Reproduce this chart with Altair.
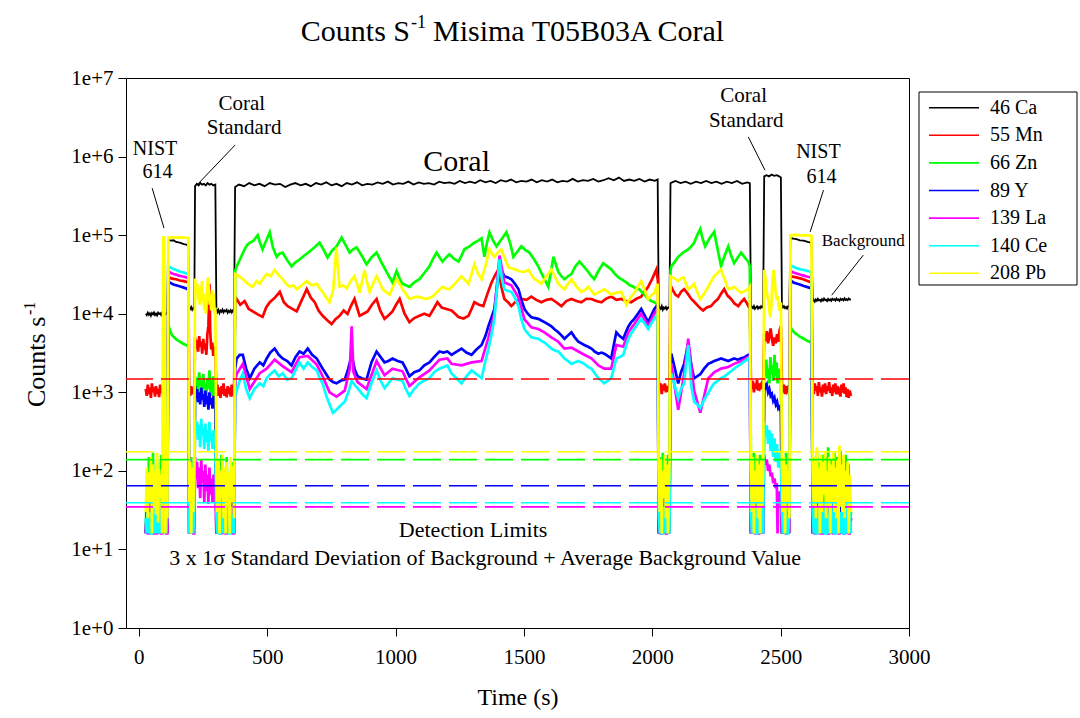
import altair as alt
import pandas as pd

FONT = "Liberation Serif"

SERIES = ["46 Ca", "55 Mn", "66 Zn", "89 Y", "139 La", "140 Ce", "208 Pb"]
COLORS = ["#000000", "#ff0000", "#00ff00", "#0000ff", "#ff00ff", "#00ffff", "#ffff00"]

X_TICKS = [0, 500, 1000, 1500, 2000, 2500, 3000]
Y_TICKS = [1, 10, 100, 1000, 10000, 100000, 1000000, 10000000]

# detection limits (dashed lines)
LIMIT_SERIES = ["55 Mn", "208 Pb", "66 Zn", "89 Y", "140 Ce", "139 La"]
LIMIT_VALUES = [1475, 175, 139, 64.5, 39.2, 34.8]

# shared time grids (s) of the background stretches
T_BG1 = [27, 31, 35, 39, 43, 47, 51, 55, 59, 63, 67, 71, 75, 79, 83, 87, 91, 95, 99, 103, 107, 111]
T_BGC = [196, 200, 204, 208, 212, 216]
T_BG2 = [302, 306, 310, 314, 318, 322, 326, 330, 334, 338, 342, 346, 350, 354, 358, 362, 366, 371]
T_GAP = [2025, 2029, 2033, 2037, 2041, 2045, 2049, 2053, 2057, 2061, 2067]
T_BG3 = [2384, 2388, 2392, 2396, 2400, 2404, 2408, 2412, 2416, 2420, 2424, 2428, 2432]
T_BG4 = [2505, 2509, 2513, 2517, 2521, 2525, 2529, 2534]
T_BG5 = [2625, 2629, 2633, 2637, 2641, 2645, 2649, 2653, 2657, 2661, 2665, 2669, 2673, 2677,
         2681, 2685, 2689, 2693, 2697, 2701, 2705, 2709, 2713, 2717, 2721, 2725, 2729, 2733,
         2737, 2741, 2745, 2749, 2753, 2757, 2761, 2765, 2769, 2774]

# ---------------- 46 Ca ----------------
CA_BG1 = [1.0e4, 9.6e3, 1.03e4, 9.7e3, 1.01e4, 9.4e3, 1.02e4, 9.8e3, 1.04e4, 9.6e3, 1.0e4, 9.5e3,
          1.03e4, 9.9e3, 1.01e4, 9.6e3, 1.04e4, 9.7e3, 1.0e4, 9.8e3, 1.02e4, 9.9e3]
CA_NIST1 = [(114, 8.7e4), (125, 8.5e4), (135, 8.6e4), (145, 8.2e4), (155, 8.1e4), (165, 7.9e4),
            (175, 7.7e4), (185, 7.6e4), (193, 7.3e4)]
CA_BGC = [1.2e4, 1.15e4, 1.22e4, 1.12e4, 1.18e4, 1.14e4]
CA_CS1 = [(219, 4.2e5), (226, 4.5e5), (233, 4.3e5), (240, 4.6e5), (247, 4.4e5), (254, 4.5e5),
          (261, 4.3e5), (268, 4.6e5), (275, 4.4e5), (282, 4.5e5), (290, 4.3e5), (298, 4.4e5)]
CA_BG2 = [1.15e4, 1.05e4, 1.12e4, 1.02e4, 1.1e4, 1.06e4, 1.13e4, 1.04e4, 1.1e4, 1.07e4, 1.12e4,
          1.03e4, 1.09e4, 1.05e4, 1.11e4, 1.04e4, 1.1e4, 1.07e4]
CA_CORAL1 = [(375, 4.1e5), (390, 4.4e5), (410, 4.2e5), (430, 4.6e5), (450, 4.3e5), (470, 4.5e5),
             (490, 4.2e5), (510, 4.6e5), (530, 4.4e5), (550, 4.5e5), (570, 4.1e5), (590, 4.4e5),
             (610, 4.6e5), (630, 4.3e5), (650, 4.5e5), (670, 4.2e5), (690, 4.6e5), (710, 4.4e5),
             (730, 4.7e5), (750, 4.3e5), (770, 4.5e5), (790, 4.2e5), (810, 4.6e5), (830, 4.4e5),
             (850, 4.7e5), (870, 4.3e5), (890, 4.5e5), (910, 4.4e5), (930, 4.7e5), (950, 4.5e5),
             (970, 4.8e5), (990, 4.4e5), (1010, 4.6e5), (1030, 4.5e5), (1050, 4.8e5), (1070, 4.4e5),
             (1090, 4.7e5), (1110, 4.5e5), (1130, 4.6e5), (1150, 4.4e5), (1170, 4.8e5), (1190, 4.6e5),
             (1210, 4.7e5), (1230, 4.5e5), (1250, 4.9e5), (1270, 4.6e5), (1290, 4.8e5), (1310, 4.6e5),
             (1330, 5.0e5), (1350, 4.7e5), (1370, 4.9e5), (1390, 4.6e5), (1410, 5.0e5), (1430, 4.8e5),
             (1450, 5.1e5), (1470, 4.7e5), (1490, 4.9e5), (1510, 4.8e5), (1530, 5.1e5), (1550, 4.7e5),
             (1570, 5.0e5), (1590, 4.8e5), (1610, 5.1e5), (1630, 4.7e5), (1650, 4.9e5), (1670, 4.8e5),
             (1690, 5.2e5), (1710, 4.8e5), (1730, 5.0e5), (1750, 4.9e5), (1770, 5.2e5), (1790, 4.8e5),
             (1810, 5.0e5), (1830, 5.3e5), (1850, 5.0e5), (1870, 5.4e5), (1890, 4.9e5), (1910, 5.1e5),
             (1930, 4.9e5), (1950, 5.2e5), (1970, 4.8e5), (1990, 5.1e5), (2010, 4.9e5), (2021, 5.1e5)]
CA_GAP = [1.3e4, 1.2e4, 1.15e4, 1.25e4, 1.12e4, 1.2e4, 1.16e4, 1.22e4, 1.14e4, 1.2e4, 1.18e4]
CA_CORAL2 = [(2071, 4.6e5), (2090, 4.9e5), (2110, 4.6e5), (2130, 4.8e5), (2150, 4.5e5), (2170, 4.8e5),
             (2190, 4.6e5), (2210, 4.9e5), (2230, 4.6e5), (2250, 4.8e5), (2270, 4.5e5), (2290, 4.8e5),
             (2310, 4.6e5), (2330, 4.9e5), (2350, 4.5e5), (2370, 4.7e5), (2380, 4.6e5)]
CA_BG3 = [1.3e4, 1.22e4, 1.18e4, 1.25e4, 1.15e4, 1.2e4, 1.24e4, 1.16e4, 1.22e4, 1.18e4, 1.25e4, 1.2e4, 1.25e4]
CA_CS2 = [(2436, 5.6e5), (2445, 5.8e5), (2455, 5.6e5), (2465, 5.9e5), (2475, 5.7e5), (2485, 5.8e5),
          (2494, 5.6e5), (2501, 5.4e5)]
CA_BG4 = [1.3e4, 1.2e4, 1.25e4, 1.18e4, 1.22e4, 1.16e4, 1.24e4, 1.2e4]
CA_NIST2 = [(2538, 9.2e4), (2550, 9.0e4), (2562, 8.9e4), (2575, 8.6e4), (2590, 8.5e4), (2605, 8.2e4),
            (2620, 8.0e4)]
CA_BG5 = [1.45e4, 1.5e4, 1.42e4, 1.52e4, 1.46e4, 1.55e4, 1.48e4, 1.5e4, 1.44e4, 1.53e4,
          1.47e4, 1.56e4, 1.49e4, 1.51e4, 1.45e4, 1.54e4, 1.48e4, 1.52e4, 1.46e4, 1.55e4,
          1.5e4, 1.53e4, 1.47e4, 1.56e4, 1.49e4, 1.52e4, 1.46e4, 1.55e4, 1.5e4, 1.54e4,
          1.48e4, 1.57e4, 1.5e4, 1.53e4, 1.49e4, 1.56e4, 1.51e4, 1.52e4]

# ---------------- 55 Mn ----------------
MN_BG1 = [1100, 900, 1250, 950, 1150, 850, 1300, 1000, 1150, 880, 1200, 950, 1100, 870, 1250, 980,
          1100, 900, 1200, 950, 1050, 1000]
MN_NIST1 = [(116, 2.9e4), (130, 2.8e4), (145, 2.75e4), (160, 2.65e4), (175, 2.6e4), (193, 2.5e4)]
MN_BGC = [1100, 900, 1200, 950, 1050, 1000]
MN_CS1 = [(219, 5000), (223, 3600), (227, 4600), (231, 3300), (235, 5200), (239, 3800), (243, 4400),
          (247, 3100), (251, 4800), (255, 3500), (259, 4200), (263, 3000), (267, 5500), (271, 7000),
          (275, 2.4e4), (278, 6000), (282, 3500), (286, 4300), (290, 2900), (294, 3800), (298, 3200)]
MN_BG2 = [1000, 1250, 900, 1150, 850, 1200, 950, 1300, 900, 1100, 860, 1200, 950, 1150, 880, 1250, 1000, 1100]
MN_CORAL1 = [(375, 1.4e4), (381, 1.54e4), (395, 1.3e4), (412, 1.45e4), (428, 1.15e4), (444, 1.07e4),
             (463, 9.8e3), (482, 9.1e3), (496, 1.2e4), (510, 1.4e4), (530, 1.6e4), (549, 1.9e4),
             (565, 1.4e4), (580, 1.25e4), (598, 1.15e4), (615, 1.07e4), (635, 1.5e4), (654, 2.05e4),
             (670, 1.6e4), (685, 1.4e4), (700, 1.1e4), (716, 9.4e3), (735, 8.2e3), (751, 7.4e3),
             (766, 8.5e3), (782, 9.4e3), (798, 1.1e4), (813, 9.9e3), (826, 1.25e4), (840, 1.54e4),
             (850, 1.2e4), (860, 9.4e3), (875, 1.0e4), (891, 1.07e4), (908, 1.3e4), (926, 1.54e4),
             (940, 1.1e4), (957, 8.6e3), (972, 9.5e3), (988, 1.07e4), (1002, 1.3e4), (1016, 1.54e4),
             (1035, 1.0e4), (1054, 7.8e3), (1073, 8.8e3), (1093, 9.4e3), (1112, 1.0e4), (1132, 9.4e3),
             (1148, 1.15e4), (1163, 1.4e4), (1180, 1.2e4), (1198, 1.15e4), (1218, 1.1e4), (1232, 1.0e4),
             (1245, 9.1e3), (1265, 8.7e3), (1284, 9.4e3), (1296, 1.15e4), (1307, 1.4e4), (1325, 1.3e4),
             (1342, 1.25e4), (1358, 1.8e4), (1374, 2.5e4), (1390, 3.2e4), (1401, 3.67e4), (1412, 2.2e4),
             (1424, 1.54e4), (1438, 1.4e4), (1451, 1.25e4), (1470, 1.45e4), (1490, 1.54e4), (1510, 1.5e4),
             (1529, 1.65e4), (1548, 1.5e4), (1568, 1.4e4), (1588, 1.5e4), (1607, 1.54e4), (1626, 1.4e4),
             (1646, 1.25e4), (1665, 1.45e4), (1685, 1.54e4), (1705, 1.45e4), (1724, 1.4e4), (1743, 1.55e4),
             (1763, 1.54e4), (1782, 1.45e4), (1802, 1.4e4), (1820, 1.55e4), (1840, 1.65e4), (1860, 1.5e4),
             (1879, 1.54e4), (1898, 1.45e4), (1918, 1.4e4), (1938, 1.55e4), (1957, 1.65e4), (1970, 1.9e4),
             (1984, 2.2e4), (2000, 2.8e4), (2016, 3.67e4), (2022, 2.6e4)]
MN_GAP = [1400, 1100, 1300, 950, 1250, 1050, 1300, 1000, 1200, 1100, 1200]
MN_CORAL2 = [(2071, 2.3e4), (2080, 2.0e4), (2090, 1.75e4), (2101, 1.65e4), (2112, 1.9e4), (2124, 2.05e4),
             (2138, 1.8e4), (2152, 1.54e4), (2165, 1.4e4), (2179, 1.25e4), (2190, 1.15e4), (2198, 1.1e4),
             (2212, 1.2e4), (2229, 1.25e4), (2242, 1.4e4), (2256, 1.54e4), (2268, 1.8e4), (2280, 2.05e4),
             (2293, 1.7e4), (2307, 1.54e4), (2320, 1.35e4), (2335, 1.25e4), (2346, 1.4e4), (2358, 1.54e4),
             (2366, 1.4e4), (2374, 1.25e4), (2380, 1.35e4)]
MN_BG3 = [1500, 1100, 1400, 1000, 1300, 1100, 1450, 1050, 1300, 1150, 1250, 1100, 1300]
MN_CS2 = [(2436, 5500), (2441, 4500), (2446, 6000), (2451, 4200), (2456, 5200), (2461, 6500), (2466, 4800),
          (2471, 3900), (2476, 5000), (2481, 4200), (2486, 5500), (2491, 4400), (2496, 6200), (2501, 7000)]
MN_BG4 = [1300, 1000, 1250, 950, 1200, 1050, 1150, 1100]
MN_NIST2 = [(2538, 3.0e4), (2560, 2.9e4), (2580, 2.8e4), (2600, 2.65e4), (2620, 2.5e4)]
MN_BG5 = [1250, 950, 1300, 1050, 1200, 900, 1350, 1000, 1150, 880, 1250, 1000, 1300, 950, 1200, 1050,
          1350, 980, 1150, 900, 1250, 1000, 1300, 940, 1200, 1050, 1150, 880, 1250, 990, 1300, 960,
          1150, 870, 1100, 850, 1050, 900]

# ---------------- 66 Zn ----------------
ZN_BG1 = [16, 60, 16, 150, 30, 45, 16, 170, 25, 80, 16, 140, 30, 50, 16, 160, 20, 16, 40, 16, 90, 25]
ZN_NIST1 = [(115, 7.2e3), (120, 6.3e3), (125, 5.7e3), (130, 5.3e3), (138, 5.0e3), (146, 4.7e3),
            (155, 4.5e3), (165, 4.3e3), (175, 4.1e3), (184, 4.0e3), (193, 3.8e3)]
ZN_BGC = [16, 60, 150, 16, 90, 30]
ZN_CS1 = [(219, 1600), (223, 1100), (227, 1500), (231, 1000), (235, 1800), (239, 1200), (243, 1400),
          (247, 950), (251, 1700), (255, 1100), (259, 1300), (263, 900), (267, 1500), (271, 1100),
          (275, 1900), (279, 1000), (283, 1400), (287, 900), (291, 1600), (295, 1000), (298, 1200)]
ZN_BG2 = [16, 140, 25, 60, 16, 160, 30, 16, 80, 16, 150, 40, 16, 70, 16, 130, 25, 16]
ZN_CORAL1 = [(375, 3.5e4), (381, 4.0e4), (395, 5.0e4), (412, 6.6e4), (422, 7.5e4), (432, 8.0e4),
             (447, 8.5e4), (463, 1.0e5), (472, 8.0e4), (482, 6.6e4), (496, 8.5e4), (510, 1.09e5),
             (522, 7.0e4), (537, 5.3e4), (548, 5.8e4), (560, 6.0e4), (578, 4.8e4), (595, 4.0e4),
             (610, 4.5e4), (626, 4.9e4), (645, 5.5e4), (665, 6.2e4), (685, 7.0e4), (704, 8.0e4),
             (720, 6.5e4), (735, 5.2e4), (752, 6.3e4), (770, 7.2e4), (790, 9.3e4), (805, 7.5e4),
             (821, 6.0e4), (835, 6.6e4), (848, 7.0e4), (868, 5.5e4), (887, 4.25e4), (906, 5.2e4),
             (926, 6.0e4), (945, 4.5e4), (965, 3.4e4), (977, 2.9e4), (988, 2.5e4), (1004, 3.5e4),
             (1016, 2.8e4), (1027, 2.4e4), (1040, 2.3e4), (1054, 2.2e4), (1073, 2.5e4), (1093, 2.75e4),
             (1112, 3.3e4), (1132, 4.0e4), (1146, 5.0e4), (1160, 6.0e4), (1172, 5.2e4), (1183, 4.6e4),
             (1197, 5.2e4), (1210, 5.7e4), (1228, 5.0e4), (1245, 4.6e4), (1257, 5.5e4), (1268, 6.6e4),
             (1288, 7.2e4), (1307, 8.0e4), (1322, 8.5e4), (1335, 9.1e4), (1346, 5.3e4), (1356, 8.0e4),
             (1366, 1.09e5), (1380, 8.5e4), (1393, 7.2e4), (1412, 8.8e4), (1432, 1.09e5), (1446, 8.0e4),
             (1459, 5.3e4), (1475, 6.2e4), (1490, 7.2e4), (1505, 6.5e4), (1521, 6.0e4), (1538, 5.0e4),
             (1556, 4.0e4), (1568, 3.3e4), (1580, 2.75e4), (1595, 2.2e4), (1615, 5.3e4), (1625, 4.2e4),
             (1634, 3.4e4), (1646, 3.0e4), (1658, 2.75e4), (1672, 3.0e4), (1685, 3.2e4), (1700, 4.0e4),
             (1716, 4.6e4), (1733, 4.0e4), (1751, 3.4e4), (1763, 3.0e4), (1774, 2.75e4), (1790, 3.5e4),
             (1809, 4.4e4), (1825, 4.0e4), (1840, 3.67e4), (1855, 3.2e4), (1868, 2.9e4), (1884, 2.7e4),
             (1899, 2.5e4), (1913, 2.3e4), (1926, 2.2e4), (1938, 2.1e4), (1949, 2.05e4), (1966, 1.8e4),
             (1984, 1.54e4), (1996, 1.45e4), (2008, 1.4e4), (2021, 1.3e4)]
ZN_GAP = [16, 150, 30, 16, 170, 40, 16, 120, 16, 160, 30]
ZN_CORAL2 = [(2071, 3.5e4), (2074, 4.0e4), (2088, 4.6e4), (2101, 5.3e4), (2120, 6.0e4), (2140, 6.6e4),
             (2152, 7.2e4), (2163, 8.0e4), (2175, 1.0e5), (2187, 1.2e5), (2196, 9.0e4), (2206, 7.2e4),
             (2222, 9.0e4), (2241, 1.1e5), (2255, 6.5e4), (2268, 4.0e4), (2282, 5.5e4), (2296, 7.2e4),
             (2307, 5.5e4), (2319, 4.4e4), (2333, 5.2e4), (2346, 6.0e4), (2360, 5.2e4), (2374, 4.6e4),
             (2380, 4.0e4)]
ZN_BG3 = [150, 30, 16, 170, 16, 60, 140, 16, 40, 160, 16, 90, 25]
ZN_CS2 = [(2436, 2200), (2440, 1600), (2444, 2600), (2448, 1500), (2452, 2000), (2456, 1300), (2460, 2800),
          (2464, 1700), (2468, 2200), (2472, 1400), (2476, 3000), (2480, 1600), (2484, 2400), (2488, 1300),
          (2492, 2000), (2496, 1500), (2501, 1800)]
ZN_BG4 = [16, 140, 30, 16, 170, 20, 60, 16]
ZN_NIST2 = [(2538, 6.8e3), (2545, 6.2e3), (2555, 5.7e3), (2565, 5.4e3), (2575, 5.1e3), (2585, 4.9e3),
            (2595, 4.7e3), (2605, 4.5e3), (2613, 4.4e3), (2620, 4.2e3)]
ZN_BG5 = [16, 150, 25, 16, 170, 40, 16, 130, 16, 60, 160, 16, 30, 150, 16, 200, 25, 16, 140, 40,
          16, 170, 16, 60, 150, 16, 30, 180, 16, 140, 25, 16, 160, 40, 16, 120, 16, 30]

# ---------------- 89 Y ----------------
Y_BG1 = [16, 35, 16, 25, 40, 16, 30, 16, 45, 16, 28, 16, 38, 16, 30, 16, 25, 16, 35, 16, 30, 16]
Y_NIST1 = [(115, 2.55e4), (125, 2.45e4), (135, 2.35e4), (145, 2.3e4), (155, 2.25e4), (165, 2.2e4),
           (175, 2.15e4), (185, 2.1e4), (193, 2.0e4)]
Y_BGC = [16, 40, 16, 30, 16, 35]
Y_CS1 = [(219, 1200), (223, 850), (227, 1100), (231, 750), (235, 1000), (239, 700), (243, 1150),
         (247, 800), (251, 950), (255, 650), (259, 1050), (263, 700), (267, 900), (271, 600),
         (275, 1000), (279, 700), (283, 850), (287, 620), (291, 900), (295, 650), (298, 800)]
Y_BG2 = [16, 35, 16, 40, 25, 16, 30, 16, 45, 16, 28, 16, 35, 16, 30, 16, 40, 16]
Y_CORAL1 = [(375, 2.0e3), (381, 2.69e3), (393, 3.0e3), (405, 3.0e3), (418, 2.0e3), (432, 1.51e3),
            (450, 2.0e3), (471, 2.4e3), (485, 2.2e3), (498, 2.69e3), (512, 3.2e3), (529, 3.6e3),
            (545, 3.0e3), (560, 2.69e3), (578, 2.5e3), (595, 2.2e3), (610, 2.8e3), (626, 3.3e3),
            (642, 3.1e3), (658, 3.6e3), (675, 3.0e3), (693, 2.69e3), (705, 2.3e3), (716, 2.0e3),
            (730, 1.7e3), (743, 1.45e3), (756, 1.35e3), (770, 1.3e3), (786, 1.4e3), (802, 1.45e3),
            (816, 2.0e3), (829, 3.0e3), (840, 2.0e3), (852, 1.6e3), (870, 1.5e3), (887, 1.45e3),
            (906, 2.4e3), (926, 3.3e3), (942, 2.8e3), (957, 2.4e3), (972, 2.5e3), (988, 2.69e3),
            (1008, 2.5e3), (1027, 2.4e3), (1040, 2.0e3), (1054, 1.6e3), (1073, 1.8e3), (1093, 1.9e3),
            (1112, 2.2e3), (1132, 2.4e3), (1150, 2.8e3), (1171, 3.3e3), (1187, 3.2e3), (1202, 3.3e3),
            (1218, 3.0e3), (1238, 3.3e3), (1257, 3.6e3), (1276, 3.2e3), (1296, 3.0e3), (1315, 3.5e3),
            (1335, 4.0e3), (1350, 5.2e3), (1362, 7.0e3), (1374, 9.0e3), (1385, 1.15e4), (1395, 2.2e4),
            (1405, 4.25e4), (1414, 3.5e4), (1424, 3.0e4), (1437, 2.9e4), (1451, 2.75e4), (1465, 2.4e4),
            (1479, 2.05e4), (1490, 1.5e4), (1502, 1.15e4), (1515, 1.0e4), (1529, 9.0e3), (1543, 8.8e3),
            (1556, 8.6e3), (1568, 8.2e3), (1580, 7.8e3), (1595, 7.3e3), (1607, 6.9e3), (1620, 6.3e3),
            (1634, 5.8e3), (1646, 5.3e3), (1658, 4.8e3), (1672, 5.3e3), (1685, 5.8e3), (1698, 5.0e3),
            (1712, 4.4e3), (1724, 4.2e3), (1735, 4.0e3), (1750, 3.8e3), (1763, 3.6e3), (1776, 3.3e3),
            (1790, 3.1e3), (1802, 3.2e3), (1813, 3.1e3), (1826, 2.9e3), (1840, 2.69e3), (1850, 4.0e3),
            (1860, 5.8e3), (1873, 5.2e3), (1887, 4.8e3), (1897, 5.8e3), (1907, 6.9e3), (1918, 7.8e3),
            (1930, 8.6e3), (1944, 1.0e4), (1957, 1.15e4), (1970, 9.5e3), (1984, 7.8e3), (1996, 9.5e3),
            (2008, 1.15e4), (2021, 1.3e4)]
Y_GAP = [16, 40, 16, 30, 16, 45, 16, 35, 16, 28, 16]
Y_CORAL2 = [(2071, 2.6e3), (2074, 3.1e3), (2088, 2.0e3), (2101, 1.3e3), (2112, 1.8e3), (2124, 2.3e3),
            (2140, 4.2e3), (2152, 2.2e3), (2163, 1.5e3), (2175, 1.6e3), (2187, 1.7e3), (2202, 2.0e3),
            (2218, 2.3e3), (2230, 2.4e3), (2241, 2.5e3), (2255, 2.6e3), (2268, 2.7e3), (2282, 2.6e3),
            (2296, 2.5e3), (2307, 2.6e3), (2319, 2.7e3), (2333, 2.6e3), (2346, 2.7e3), (2360, 2.8e3),
            (2374, 3.0e3), (2380, 2.9e3)]
Y_BG3 = [16, 40, 16, 30, 16, 45, 16, 28, 16, 38, 16, 30, 16]
Y_CS2 = [(2436, 1300), (2441, 1150), (2446, 1250), (2451, 1000), (2456, 1100), (2461, 900), (2466, 950),
         (2471, 780), (2476, 850), (2481, 700), (2486, 760), (2491, 620), (2496, 650), (2501, 560)]
Y_BG4 = [16, 35, 16, 40, 16, 30, 16, 25]
Y_NIST2 = [(2538, 2.65e4), (2550, 2.5e4), (2562, 2.42e4), (2575, 2.35e4), (2590, 2.25e4), (2605, 2.18e4),
           (2620, 2.1e4)]
Y_BG5 = [16, 40, 16, 30, 16, 45, 16, 28, 16, 50, 16, 35, 16, 30, 16, 45, 16, 25, 16, 40,
         16, 32, 16, 48, 16, 30, 16, 38, 16, 28, 16, 42, 16, 30, 16, 35, 16, 25]

# ---------------- 139 La ----------------
LA_BG1 = [16, 30, 16, 16, 25, 16, 35, 16, 16, 30, 16, 16, 28, 16, 35, 16, 16, 25, 16, 30, 16, 16]
LA_NIST1 = [(115, 3.45e4), (125, 3.3e4), (135, 3.2e4), (145, 3.15e4), (155, 3.05e4), (165, 3.0e4),
            (175, 2.95e4), (185, 2.9e4), (193, 2.8e4)]
LA_BGC = [16, 30, 16, 25, 16, 16]
LA_CS1 = [(219, 150), (223, 80), (227, 130), (231, 60), (235, 110), (239, 45), (243, 140), (247, 70),
          (251, 100), (255, 40), (259, 120), (263, 55), (267, 90), (271, 38), (275, 110), (279, 50),
          (283, 80), (287, 40), (291, 90), (295, 45), (298, 60)]
LA_BG2 = [16, 25, 16, 30, 16, 16, 35, 16, 25, 16, 16, 30, 16, 22, 16, 35, 16, 16]
LA_CORAL1 = [(375, 1.4e3), (381, 1.7e3), (405, 2.3e3), (432, 1.1e3), (471, 1.75e3), (498, 2.0e3),
             (529, 2.6e3), (560, 2.15e3), (595, 1.8e3), (626, 2.8e3), (658, 2.9e3), (693, 2.25e3),
             (716, 1.6e3), (743, 1.0e3), (770, 880), (802, 1.05e3), (822, 2.0e3), (829, 6.9e3),
             (836, 1.8e3), (852, 1.35e3), (887, 1.1e3), (926, 2.5e3), (957, 1.65e3), (988, 2.0e3),
             (1027, 1.85e3), (1054, 1.2e3), (1093, 1.55e3), (1132, 1.9e3), (1171, 2.6e3), (1202, 2.7e3),
             (1218, 2.3e3), (1257, 2.2e3), (1296, 2.4e3), (1335, 2.5e3), (1362, 5.0e3), (1385, 1.0e4),
             (1405, 5.5e4), (1424, 2.5e4), (1451, 2.3e4), (1479, 1.6e4), (1502, 8.5e3), (1529, 6.7e3),
             (1556, 6.4e3), (1580, 5.8e3), (1607, 5.0e3), (1634, 4.4e3), (1658, 3.6e3), (1685, 3.7e3),
             (1712, 3.3e3), (1735, 3.0e3), (1763, 2.7e3), (1790, 2.2e3), (1813, 2.0e3), (1840, 2.0e3),
             (1860, 4.0e3), (1887, 3.8e3), (1907, 5.8e3), (1930, 7.4e3), (1957, 1.0e4), (1984, 7.0e3),
             (2008, 1.0e4), (2021, 1.15e4)]
LA_GAP = [16, 30, 16, 16, 25, 16, 30, 16, 16, 25, 16]
LA_CORAL2 = [(2071, 1.9e3), (2074, 2.3e3), (2101, 600), (2124, 1.7e3), (2140, 4.8e3), (2163, 1.05e3),
             (2187, 550), (2218, 1.5e3), (2241, 1.8e3), (2268, 2.0e3), (2296, 2.1e3), (2319, 2.3e3),
             (2346, 2.5e3), (2374, 2.8e3), (2380, 2.6e3)]
LA_BG3 = [16, 30, 16, 25, 16, 16, 30, 16, 16, 25, 16, 30, 16]
LA_CS2 = [(2436, 160), (2441, 120), (2446, 140), (2451, 100), (2456, 120), (2461, 85), (2466, 95),
          (2471, 70), (2476, 80), (2481, 60), (2485, 70), (2488, 16), (2492, 55), (2496, 40), (2501, 50)]
LA_BG4 = [16, 30, 16, 25, 16, 16, 30, 16]
LA_NIST2 = [(2538, 3.5e4), (2550, 3.35e4), (2562, 3.25e4), (2575, 3.15e4), (2590, 3.05e4), (2605, 2.95e4),
            (2620, 2.9e4)]
LA_BG5 = [16, 30, 16, 16, 25, 16, 35, 16, 16, 30, 16, 16, 28, 16, 30, 16, 16, 25, 16, 30,
          16, 16, 28, 16, 33, 16, 16, 25, 16, 30, 16, 16, 27, 16, 30, 16, 16, 25]

# ---------------- 140 Ce ----------------
CE_BG1 = [25, 16, 40, 16, 30, 16, 16, 35, 16, 45, 16, 30, 16, 40, 16, 28, 16, 35, 16, 40, 16, 30]
CE_NIST1 = [(115, 4.0e4), (125, 3.85e4), (135, 3.7e4), (145, 3.6e4), (155, 3.5e4), (165, 3.4e4),
            (175, 3.35e4), (185, 3.25e4), (193, 3.2e4)]
CE_BGC = [16, 35, 16, 45, 16, 30]
CE_CS1 = [(219, 450), (223, 300), (227, 420), (231, 250), (235, 380), (239, 200), (243, 460), (247, 280),
          (251, 350), (255, 190), (259, 400), (263, 230), (267, 330), (271, 180), (275, 420), (279, 240),
          (283, 300), (287, 190), (291, 330), (295, 210), (298, 260)]
CE_BG2 = [30, 16, 40, 16, 16, 35, 16, 45, 16, 30, 16, 40, 16, 16, 35, 16, 28, 16]
CE_CORAL1 = [(375, 900), (381, 1.05e3), (393, 1.4e3), (405, 1.74e3), (418, 1.1e3), (432, 843),
             (450, 1.1e3), (471, 1.3e3), (485, 1.2e3), (498, 1.51e3), (512, 1.7e3), (529, 1.9e3),
             (545, 1.6e3), (560, 1.74e3), (578, 1.45e3), (595, 1.51e3), (610, 1.9e3), (626, 2.4e3),
             (642, 2.0e3), (658, 2.4e3), (675, 2.1e3), (693, 1.9e3), (705, 1.5e3), (716, 1.3e3),
             (730, 900), (743, 700), (756, 550), (770, 600), (786, 680), (802, 760),
             (816, 1.0e3), (829, 1.4e3), (840, 1.25e3), (852, 1.13e3), (870, 950), (887, 843),
             (906, 1.3e3), (926, 1.9e3), (942, 1.4e3), (957, 1.13e3), (972, 1.3e3), (988, 1.51e3),
             (1008, 1.45e3), (1027, 1.4e3), (1040, 1.1e3), (1054, 900), (1073, 1.1e3), (1093, 1.3e3),
             (1112, 1.4e3), (1132, 1.51e3), (1150, 1.8e3), (1171, 2.0e3), (1187, 2.1e3), (1202, 2.2e3),
             (1218, 1.74e3), (1238, 1.5e3), (1257, 1.3e3), (1276, 1.6e3), (1296, 1.9e3), (1315, 1.7e3),
             (1335, 1.51e3), (1350, 2.5e3), (1362, 3.6e3), (1374, 5.5e3), (1385, 8.6e3), (1395, 2.0e4),
             (1405, 4.9e4), (1414, 2.8e4), (1424, 2.05e4), (1437, 1.95e4), (1451, 1.9e4), (1465, 1.6e4),
             (1479, 1.25e4), (1490, 8.5e3), (1502, 6.4e3), (1515, 5.6e3), (1529, 5.0e3), (1543, 4.9e3),
             (1556, 4.8e3), (1568, 4.5e3), (1580, 4.3e3), (1595, 3.9e3), (1607, 3.6e3), (1620, 3.4e3),
             (1634, 3.3e3), (1646, 3.0e3), (1658, 2.69e3), (1672, 2.5e3), (1685, 2.3e3), (1698, 2.4e3),
             (1712, 2.5e3), (1724, 2.4e3), (1735, 2.3e3), (1750, 2.1e3), (1763, 2.0e3), (1776, 1.75e3),
             (1790, 1.51e3), (1802, 1.4e3), (1813, 1.3e3), (1826, 1.4e3), (1840, 1.51e3), (1850, 2.0e3),
             (1860, 2.69e3), (1873, 2.8e3), (1887, 3.0e3), (1897, 3.8e3), (1907, 4.8e3), (1918, 5.6e3),
             (1930, 6.4e3), (1944, 7.5e3), (1957, 8.6e3), (1970, 7.5e3), (1984, 6.4e3), (1996, 7.5e3),
             (2008, 8.6e3), (2021, 1.0e4)]
CE_GAP = [30, 16, 40, 16, 16, 35, 16, 45, 16, 30, 16]
CE_CORAL2 = [(2071, 1.5e3), (2074, 1.74e3), (2088, 1.2e3), (2101, 843), (2112, 1.1e3), (2124, 1.3e3),
             (2140, 4.0e3), (2152, 1.2e3), (2163, 760), (2175, 700), (2187, 630), (2202, 800),
             (2218, 980), (2230, 1.15e3), (2241, 1.3e3), (2255, 1.4e3), (2268, 1.51e3), (2282, 1.6e3),
             (2296, 1.74e3), (2307, 1.85e3), (2319, 2.0e3), (2333, 2.15e3), (2346, 2.3e3), (2360, 2.5e3),
             (2374, 2.69e3), (2380, 2.5e3)]
CE_BG3 = [30, 16, 40, 16, 35, 16, 16, 45, 16, 30, 16, 38, 16]
CE_CS2 = [(2436, 420), (2441, 280), (2446, 380), (2451, 220), (2456, 330), (2461, 180), (2466, 300),
          (2471, 150), (2476, 260), (2481, 130), (2486, 220), (2491, 110), (2496, 180), (2501, 120)]
CE_BG4 = [30, 16, 40, 16, 35, 16, 16, 30]
CE_NIST2 = [(2538, 4.15e4), (2550, 3.95e4), (2562, 3.8e4), (2575, 3.7e4), (2590, 3.6e4), (2605, 3.5e4),
            (2620, 3.4e4)]
CE_BG5 = [30, 16, 40, 16, 16, 35, 16, 45, 16, 30, 16, 40, 16, 16, 35, 16, 28, 16, 42, 16,
          30, 16, 16, 38, 16, 45, 16, 30, 16, 35, 16, 16, 40, 16, 28, 16, 35, 16]

# ---------------- 208 Pb ----------------
PB_BG1 = [30, 110, 25, 95, 40, 150, 16, 120, 35, 100, 28, 170, 22, 105, 45, 90, 16, 9.3e4, 9.3e4, 16, 60, 25]
PB_NIST1 = [(115, 9.3e4), (130, 9.4e4), (145, 9.3e4), (160, 9.35e4), (175, 9.3e4), (193, 9.2e4)]
PB_BGC = [40, 130, 16, 110, 30, 150]
PB_CS1 = [(219, 2.8e4), (222, 2.2e4), (225, 1.8e4), (228, 2.4e4), (231, 1.5e4), (234, 1.9e4), (237, 1.3e4),
          (240, 2.2e4), (243, 1.6e4), (246, 2.6e4), (249, 1.4e4), (252, 1.8e4), (255, 1.1e4), (258, 1.5e4),
          (261, 1.0e4), (264, 1.6e4), (267, 2.4e4), (270, 2.9e4), (273, 1.8e4), (276, 1.3e4), (279, 1.6e4),
          (282, 1.1e4), (285, 2.0e4), (288, 1.4e4), (291, 1.8e4), (294, 1.0e4), (298, 1.2e4)]
PB_BG2 = [120, 30, 140, 16, 100, 45, 160, 25, 110, 16, 130, 35, 95, 16, 150, 40, 115, 25]
PB_CORAL1 = [(375, 3.2e4), (390, 3.0e4), (405, 2.75e4), (425, 2.4e4), (444, 2.2e4), (458, 2.6e4),
             (471, 2.4e4), (485, 2.8e4), (498, 3.2e4), (514, 3.0e4), (529, 3.6e4), (545, 3.1e4),
             (560, 2.75e4), (574, 2.4e4), (588, 2.2e4), (602, 2.3e4), (615, 2.05e4), (635, 2.3e4),
             (654, 2.6e4), (673, 2.3e4), (693, 2.4e4), (705, 2.1e4), (716, 1.9e4), (730, 1.6e4),
             (743, 1.4e4), (757, 2.0e4), (765, 4.5e4), (770, 7.0e4), (776, 3.5e4), (782, 2.2e4),
             (796, 2.3e4), (809, 2.1e4), (825, 2.6e4), (840, 3.0e4), (850, 2.4e4), (860, 1.85e4),
             (870, 2.6e4), (879, 3.6e4), (889, 2.5e4), (899, 1.9e4), (912, 2.4e4), (926, 3.0e4),
             (938, 2.5e4), (949, 2.05e4), (963, 1.9e4), (977, 1.75e4), (990, 2.2e4), (1004, 2.75e4),
             (1016, 2.4e4), (1027, 2.05e4), (1040, 1.8e4), (1054, 1.54e4), (1068, 1.6e4), (1082, 1.65e4),
             (1100, 1.6e4), (1121, 1.54e4), (1133, 1.6e4), (1144, 1.65e4), (1163, 1.9e4), (1183, 2.2e4),
             (1196, 2.1e4), (1210, 2.05e4), (1225, 2.3e4), (1240, 2.6e4), (1257, 3.0e4), (1270, 2.7e4),
             (1284, 2.4e4), (1296, 3.2e4), (1307, 4.25e4), (1320, 3.3e4), (1335, 2.75e4), (1350, 4.0e4),
             (1366, 6.6e4), (1375, 5.8e4), (1385, 5.3e4), (1398, 6.0e4), (1412, 6.6e4), (1426, 5.0e4),
             (1440, 3.9e4), (1452, 3.8e4), (1463, 3.67e4), (1480, 3.5e4), (1498, 3.4e4), (1508, 3.5e4),
             (1517, 3.6e4), (1530, 3.1e4), (1541, 2.75e4), (1555, 2.6e4), (1568, 2.4e4), (1588, 3.0e4),
             (1607, 3.67e4), (1620, 3.0e4), (1634, 2.4e4), (1646, 2.2e4), (1658, 2.05e4), (1672, 2.4e4),
             (1685, 2.75e4), (1705, 2.2e4), (1724, 1.9e4), (1738, 2.0e4), (1751, 2.2e4), (1763, 1.95e4),
             (1774, 1.75e4), (1794, 1.9e4), (1813, 2.05e4), (1827, 1.9e4), (1840, 1.75e4), (1860, 1.85e4),
             (1879, 1.9e4), (1889, 1.6e4), (1899, 1.3e4), (1915, 1.6e4), (1930, 1.85e4), (1944, 2.2e4),
             (1957, 2.6e4), (1970, 2.0e4), (1984, 1.54e4), (1996, 1.7e4), (2008, 1.85e4), (2021, 2.4e4)]
PB_GAP = [110, 30, 140, 16, 100, 45, 160, 25, 120, 16, 130]
PB_CORAL2 = [(2071, 3.0e4), (2088, 2.8e4), (2101, 2.6e4), (2112, 2.8e4), (2121, 2.9e4), (2130, 2.5e4),
             (2140, 2.05e4), (2152, 2.2e4), (2163, 2.4e4), (2175, 1.9e4), (2187, 1.54e4), (2202, 1.8e4),
             (2218, 2.2e4), (2230, 2.6e4), (2241, 3.0e4), (2255, 3.3e4), (2268, 3.67e4), (2282, 2.7e4),
             (2296, 2.05e4), (2307, 2.1e4), (2319, 2.2e4), (2333, 2.0e4), (2346, 1.85e4), (2360, 1.95e4),
             (2374, 2.05e4), (2380, 2.2e4)]
PB_BG3 = [130, 30, 150, 16, 100, 40, 160, 25, 120, 16, 140, 35, 110]
PB_CS2 = [(2436, 3.6e4), (2440, 3.0e4), (2444, 2.2e4), (2448, 1.7e4), (2452, 1.5e4), (2456, 1.1e4),
          (2460, 9.0e3), (2464, 1.3e4), (2468, 2.5e4), (2472, 3.6e4), (2476, 3.0e4), (2480, 2.0e4),
          (2484, 1.5e4), (2488, 1.7e4), (2492, 1.3e4), (2496, 1.1e4), (2501, 1.4e4)]
PB_BG4 = [110, 30, 150, 16, 120, 40, 100, 25]
PB_NIST2 = [(2538, 1.0e5), (2555, 1.01e5), (2570, 1.0e5), (2585, 9.9e4), (2600, 1.0e5), (2620, 9.8e4)]
PB_BG5 = [120, 35, 150, 25, 200, 40, 110, 16, 160, 30, 130, 50, 180, 25, 100, 35, 150, 16, 120, 40,
          170, 30, 110, 25, 140, 16, 210, 35, 120, 30, 160, 25, 100, 40, 130, 16, 90, 30]

# annotations (text, time, counts, font size)
ANN_TEXT = ["NIST", "614", "Coral", "Standard", "Coral", "Coral", "Standard", "NIST", "614",
            "Background", "Detection Limits",
            "3 x 1\u03c3 Standard Deviation of Background + Average Background Value"]
ANN_T = [63, 73, 401, 410, 1238, 2356, 2366, 2647, 2659, 2822, 1302, 1349]
ANN_V = [1.26e6, 6.33e5, 4.64e6, 2.30e6, 8.57e5, 5.86e6, 2.86e6, 1.14e6, 5.55e5, 8.39e4, 17.7, 7.78]
ANN_SIZE = [20, 20, 21, 21, 30, 21, 21, 20, 20, 17, 22, 22]

# leader lines
LEAD_T1 = [52, 375, 2374, 2667, 2822]
LEAD_V1 = [3.96e5, 1.40e6, 1.78e6, 3.74e5, 5.57e4]
LEAD_T2 = [98, 226, 2439, 2615, 2699]
LEAD_V2 = [1.23e5, 4.33e5, 6.71e5, 1.10e5, 1.72e4]

GRIDS = [T_BG1, None, T_BGC, None, T_BG2, None, T_GAP, None, T_BG3, None, T_BG4, None, T_BG5]
PIECES = {
    "46 Ca": [CA_BG1, CA_NIST1, CA_BGC, CA_CS1, CA_BG2, CA_CORAL1, CA_GAP, CA_CORAL2, CA_BG3, CA_CS2, CA_BG4, CA_NIST2, CA_BG5],
    "55 Mn": [MN_BG1, MN_NIST1, MN_BGC, MN_CS1, MN_BG2, MN_CORAL1, MN_GAP, MN_CORAL2, MN_BG3, MN_CS2, MN_BG4, MN_NIST2, MN_BG5],
    "66 Zn": [ZN_BG1, ZN_NIST1, ZN_BGC, ZN_CS1, ZN_BG2, ZN_CORAL1, ZN_GAP, ZN_CORAL2, ZN_BG3, ZN_CS2, ZN_BG4, ZN_NIST2, ZN_BG5],
    "89 Y": [Y_BG1, Y_NIST1, Y_BGC, Y_CS1, Y_BG2, Y_CORAL1, Y_GAP, Y_CORAL2, Y_BG3, Y_CS2, Y_BG4, Y_NIST2, Y_BG5],
    "139 La": [LA_BG1, LA_NIST1, LA_BGC, LA_CS1, LA_BG2, LA_CORAL1, LA_GAP, LA_CORAL2, LA_BG3, LA_CS2, LA_BG4, LA_NIST2, LA_BG5],
    "140 Ce": [CE_BG1, CE_NIST1, CE_BGC, CE_CS1, CE_BG2, CE_CORAL1, CE_GAP, CE_CORAL2, CE_BG3, CE_CS2, CE_BG4, CE_NIST2, CE_BG5],
    "208 Pb": [PB_BG1, PB_NIST1, PB_BGC, PB_CS1, PB_BG2, PB_CORAL1, PB_GAP, PB_CORAL2, PB_BG3, PB_CS2, PB_BG4, PB_NIST2, PB_BG5],
}

rows = []
for name in SERIES:
    pts = []
    for grid, piece in zip(GRIDS, PIECES[name]):
        pts += list(zip(grid, piece)) if grid is not None else list(piece)
    for i, (t, v) in enumerate(pts):
        rows.append({"series": name, "t": t, "v": v, "i": i})
df = pd.DataFrame(rows)

xscale = alt.Scale(domain=[-50, 3000], nice=False, zero=False)
yscale = alt.Scale(type="log", domain=[1, 1e7], nice=False)
cscale = alt.Scale(domain=SERIES, range=COLORS)

xaxis = alt.Axis(values=X_TICKS, format="d", title="Time (s)", titleFont=FONT, titleFontSize=24,
                 titleFontWeight="normal", titleColor="black", titlePadding=18,
                 labelFont=FONT, labelFontSize=21, labelColor="black", labelPadding=10,
                 labelFlush=False, tickSize=8, tickColor="black", grid=False, domain=False)
yaxis = alt.Axis(values=Y_TICKS, labelExpr="'1e+' + round(log(datum.value) / LN10)", title="",
                 labelFont=FONT, labelFontSize=21, labelColor="black", labelPadding=5,
                 tickSize=8, tickColor="black", grid=False, domain=False)


def X(f):
    return alt.X(f, type="quantitative", scale=xscale, axis=xaxis)


def Y(f):
    return alt.Y(f, type="quantitative", scale=yscale, axis=yaxis)


color = alt.Color("series:N", scale=cscale, legend=None)

layers = []
for name in SERIES:
    sub = df[df["series"] == name]
    layers.append(
        alt.Chart(sub).mark_line(strokeWidth=1.8 if name == "46 Ca" else 2.7, clip=True)
        .encode(x=X("t"), y=Y("v"), color=color, order=alt.Order("i:Q"))
    )

lim_df = pd.DataFrame({"series": LIMIT_SERIES, "v": LIMIT_VALUES})
layers.append(alt.Chart(lim_df).mark_rule(strokeDash=[28, 8], strokeWidth=1.6)
              .encode(y=Y("v"), color=color))

lead_df = pd.DataFrame({"t1": LEAD_T1, "v1": LEAD_V1, "t2": LEAD_T2, "v2": LEAD_V2})
layers.append(alt.Chart(lead_df).mark_rule(color="black", strokeWidth=1)
              .encode(x=X("t1"), y=Y("v1"), x2="t2", y2="v2"))

ann_df = pd.DataFrame({"label": ANN_TEXT, "t": ANN_T, "v": ANN_V, "fs": ANN_SIZE})
layers.append(alt.Chart(ann_df).mark_text(font=FONT, color="black", baseline="middle", align="center")
              .encode(x=X("t"), y=Y("v"), text="label:N", size=alt.Size("fs:Q", scale=None, legend=None)))

inner = alt.layer(*layers)

# legend built from the series list
leg_df = pd.DataFrame({"series": SERIES})
ly = alt.Y("series:N", scale=alt.Scale(type="point", domain=SERIES, range=[29.7, 195.3], padding=0), axis=None)
one = pd.DataFrame({"k": [0]})
box = alt.Chart(one).mark_rect(fill="white", stroke="black", strokeWidth=1).encode(
    x=alt.value(793), x2=alt.value(951), y=alt.value(14), y2=alt.value(207))
leg_lines = alt.Chart(leg_df).mark_rule(strokeWidth=1.6).encode(
    x=alt.value(803), x2=alt.value(853), y=ly, color=color)
leg_text = alt.Chart(leg_df).mark_text(align="left", baseline="middle", font=FONT, fontSize=20,
                                       color="black").encode(x=alt.value(864), y=ly, text="series:N")

# chart title with superscript
t1 = alt.Chart(one).mark_text(text="Counts S", font=FONT, fontSize=30, align="right",
                              baseline="alphabetic", color="black").encode(x=alt.value(284), y=alt.value(-37))
t2 = alt.Chart(one).mark_text(text="-1", font=FONT, fontSize=18, align="left",
                              baseline="alphabetic", color="black").encode(x=alt.value(285), y=alt.value(-50))
t3 = alt.Chart(one).mark_text(text="Misima T05B03A Coral", font=FONT, fontSize=30, align="left",
                              baseline="alphabetic", color="black").encode(x=alt.value(307), y=alt.value(-37))

# y-axis title with superscript
yt1 = alt.Chart(one).mark_text(text="Counts s", font=FONT, fontSize=26, angle=270, align="left",
                               baseline="alphabetic", color="black").encode(x=alt.value(-81), y=alt.value(329))
yt2 = alt.Chart(one).mark_text(text="-1", font=FONT, fontSize=16, angle=270, align="left",
                               baseline="alphabetic", color="black").encode(x=alt.value(-91), y=alt.value(237))

chart = (
    alt.layer(inner, box, leg_lines, leg_text, t1, t2, t3, yt1, yt2)
    .resolve_scale(y="independent")
    .properties(width=783, height=550, autosize="none",
                padding={"left": 126, "top": 78, "right": 171, "bottom": 90})
    .configure_view(stroke="black", strokeWidth=1)
)

chart.save("out.html", embed_options={"renderer": "svg", "actions": False})
